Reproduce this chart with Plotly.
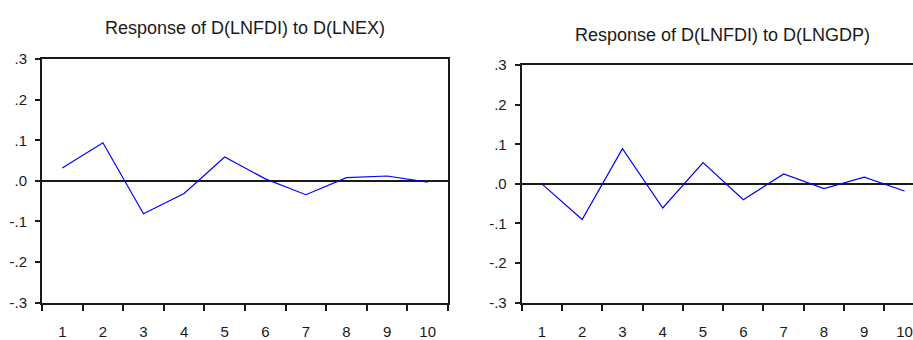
import plotly.graph_objects as go

# ---- data ----
periods = ["1", "2", "3", "4", "5", "6", "7", "8", "9", "10"]
resp_lnex = [0.032, 0.094, -0.081, -0.031, 0.059, 0.005, -0.034, 0.008, 0.012, -0.003]
resp_lngdp = [0.0, -0.090, 0.089, -0.061, 0.054, -0.040, 0.025, -0.012, 0.017, -0.018]
y_tickvals = [0.3, 0.2, 0.1, 0.0, -0.1, -0.2, -0.3]
y_ticktext = [".3", ".2", ".1", ".0", "-.1", "-.2", "-.3"]
title_left = "Response of D(LNFDI) to D(LNEX)"
title_right = "Response of D(LNFDI) to D(LNGDP)"

W, H = 913, 340
FONT = "Liberation Sans, Arial, sans-serif"
INK = "#1a1a1a"
BLUE = "#0000ff"

fig = go.Figure()
fig.add_trace(go.Scatter(x=periods, y=resp_lnex, mode="lines",
                         line=dict(color=BLUE, width=1.2), xaxis="x", yaxis="y",
                         showlegend=False, hoverinfo="skip"))
fig.add_trace(go.Scatter(x=periods, y=resp_lngdp, mode="lines",
                         line=dict(color=BLUE, width=1.2), xaxis="x2", yaxis="y2",
                         showlegend=False, hoverinfo="skip"))

def xax(domain, rng, mirror):
    return dict(domain=domain, type="category", range=rng, tickson="boundaries",
                ticks="outside", ticklen=6, tickwidth=2, tickcolor=INK,
                showline=True, linecolor=INK, linewidth=2, mirror=mirror,
                showgrid=False, zeroline=False, fixedrange=True,
                tickfont=dict(family=FONT, size=15, color=INK), ticklabelstandoff=14)

def yax(domain, anchor, mirror):
    return dict(domain=domain, anchor=anchor, range=[-0.3, 0.3],
                tickvals=y_tickvals, ticktext=y_ticktext,
                ticks="outside", ticklen=5, tickwidth=2, tickcolor=INK,
                showline=True, linecolor=INK, linewidth=2, mirror=mirror,
                showgrid=False, zeroline=True, zerolinecolor=INK, zerolinewidth=1.5,
                fixedrange=True, tickfont=dict(family=FONT, size=15, color=INK),
                ticklabelstandoff=5)

xl = [42 / W, 448 / W]
xr = [521.7 / W, 1.0]
yl = [30 / H, (H - 53) / H]
yr = [30 / H, (H - 59.3) / H]

fig.update_layout(
    width=W, height=H, autosize=False,
    margin=dict(l=0, r=0, t=0, b=0),
    paper_bgcolor="white", plot_bgcolor="white",
    xaxis=xax(xl, [-0.5, 9.5], True),
    yaxis=yax(yl, "x", True),
    xaxis2=dict(xax(xr, [-0.5, 9.21], True), anchor="y2"),
    yaxis2=yax(yr, "x2", False),
    annotations=[
        dict(text=title_left, x=(xl[0] + xl[1]) / 2, y=1 - 20 / H, xref="paper", yref="paper",
             showarrow=False, xanchor="center", yanchor="middle",
             font=dict(family=FONT, size=18, color=INK)),
        dict(text=title_right, x=(521.7 + 924) / 2 / W, y=1 - 27 / H, xref="paper", yref="paper",
             showarrow=False, xanchor="center", yanchor="middle",
             font=dict(family=FONT, size=18, color=INK)),
    ],
)

fig.write_html("out.html", config={"displayModeBar": False},
               post_script="document.body.style.margin='0px';")
